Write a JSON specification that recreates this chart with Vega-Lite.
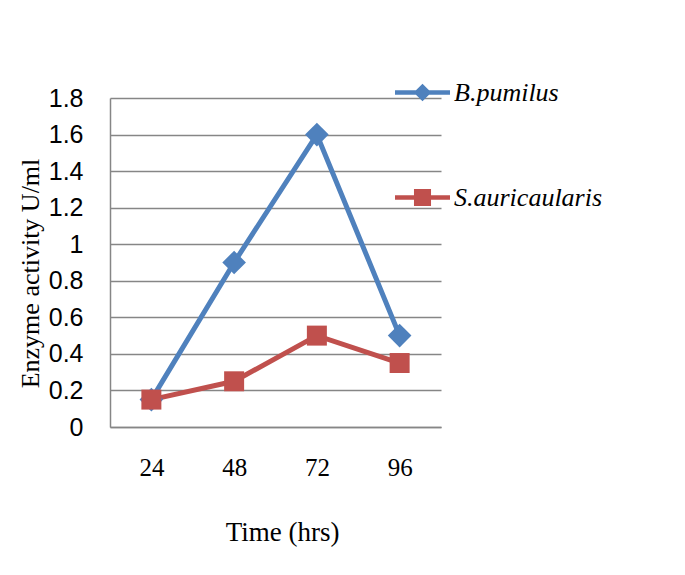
{
  "$schema": "https://vega.github.io/schema/vega-lite/v6.json",
  "autosize": "none",
  "padding": {"left": 110, "top": 98, "right": 244, "bottom": 148},
  "width": 331,
  "height": 329,
  "background": "white",
  "config": {
    "view": {"stroke": null},
    "axis": {"domainColor": "#868686", "domainWidth": 1.5, "gridColor": "#868686", "gridWidth": 1.5, "ticks": false, "tickSize": 0, "labelColor": "black", "titleColor": "black"}
  },
  "data": {
    "values": [
      {"time": "24", "series": "B.pumilus", "activity": 0.15},
      {"time": "48", "series": "B.pumilus", "activity": 0.9},
      {"time": "72", "series": "B.pumilus", "activity": 1.6},
      {"time": "96", "series": "B.pumilus", "activity": 0.5},
      {"time": "24", "series": "S.auricaularis", "activity": 0.15},
      {"time": "48", "series": "S.auricaularis", "activity": 0.25},
      {"time": "72", "series": "S.auricaularis", "activity": 0.5},
      {"time": "96", "series": "S.auricaularis", "activity": 0.35}
    ]
  },
  "encoding": {
    "x": {
      "field": "time", "type": "ordinal", "sort": null,
      "scale": {"type": "point", "padding": 0.5},
      "axis": {
        "title": "Time (hrs)", "labelAngle": 0, "grid": false,
        "labelFont": "Liberation Serif", "labelFontSize": 25, "labelBaseline": "middle", "labelPadding": 40,
        "titleFont": "Liberation Serif", "titleFontSize": 27, "titleFontWeight": "normal",
        "titleX": 172, "titleY": 105, "titleBaseline": "middle", "titleAlign": "center"
      }
    },
    "y": {
      "field": "activity", "type": "quantitative",
      "scale": {"domain": [0, 1.8], "nice": false},
      "axis": {
        "title": "Enzyme activity U/ml", "grid": true,
        "values": [0, 0.2, 0.4, 0.6, 0.8, 1, 1.2, 1.4, 1.6, 1.8], "format": "~g",
        "labelFont": "Liberation Sans", "labelFontSize": 25, "labelPadding": 27,
        "titleFont": "Liberation Serif", "titleFontSize": 26, "titleFontWeight": "normal",
        "titleX": -80, "titleY": 175, "titleAngle": -90, "titleAlign": "center", "titleBaseline": "middle"
      }
    },
    "color": {
      "field": "series", "type": "nominal",
      "scale": {"domain": ["B.pumilus", "S.auricaularis"], "range": ["#4F81BD", "#C0504D"]},
      "legend": {
        "title": null, "orient": "none", "legendX": 285, "legendY": -33,
        "padding": 0, "symbolSize": 3025, "rowPadding": 64, "labelOffset": 4,
        "labelFont": "Liberation Serif", "labelFontStyle": "italic", "labelFontSize": 26, "labelColor": "black",
        "labelLimit": 300,
        "encode": {
          "symbols": {
            "update": {
              "shape": {"signal": "datum.value == 'B.pumilus' ? 'M-1,-0.085H1V0.085H-1Z M-0.32,0L0,-0.32L0.32,0L0,0.32Z' : 'M-1,-0.085H1V0.085H-1Z M-0.31,-0.31H0.31V0.31H-0.31Z'"},
              "fill": {"signal": "datum.value == 'B.pumilus' ? '#4F81BD' : '#C0504D'"},
              "fillOpacity": {"value": 1},
              "opacity": {"value": 1},
              "strokeWidth": {"value": 0}
            }
          }
        }
      }
    }
  },
  "layer": [
    {
      "mark": {"type": "line", "strokeWidth": 5}
    },
    {
      "transform": [{"filter": "datum.series == 'B.pumilus'"}],
      "mark": {"type": "point", "filled": true, "shape": "diamond", "size": 560, "opacity": 1}
    },
    {
      "transform": [{"filter": "datum.series == 'S.auricaularis'"}],
      "mark": {"type": "point", "filled": true, "shape": "square", "size": 400, "opacity": 1}
    }
  ]
}
